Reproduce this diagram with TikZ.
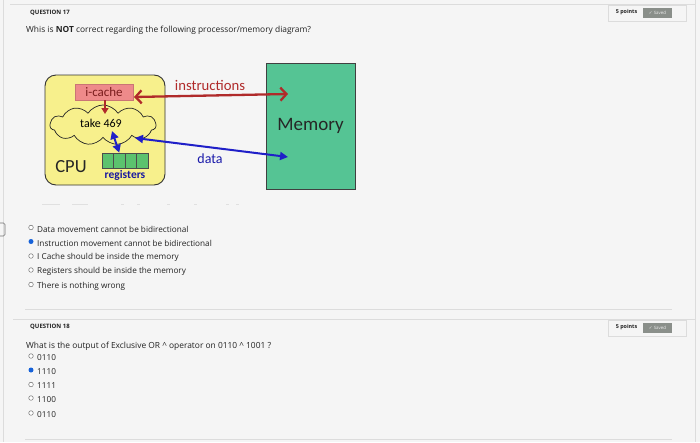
\documentclass[tikz,border=0pt]{standalone}
\usepackage{fontspec}
\setmainfont{Open Sans}
\newfontfamily\diafont{Carlito}
\newfontfamily\symfont{DejaVu Sans}
\usetikzlibrary{shapes.symbols,arrows.meta}
\definecolor{bg}{HTML}{F5F5F5}
\definecolor{rule}{HTML}{DCDCDC}
\definecolor{cpuyellow}{HTML}{F7F08C}
\definecolor{icpink}{HTML}{EE8A8A}
\definecolor{icred}{HTML}{B02A2A}
\definecolor{memgreen}{HTML}{55C494}
\definecolor{reggreen}{HTML}{5CC26E}
\definecolor{darrow}{HTML}{1F1FC8}
\definecolor{txt}{HTML}{222222}
\definecolor{savedgray}{HTML}{8A8F8A}
\tikzset{
  rulel/.style={draw=rule,line width=0.9pt},
  qhead/.style={font=\fontsize{6}{7}\selectfont\bfseries,text=txt,anchor=west,inner sep=0pt},
  qtext/.style={font=\fontsize{8.4}{10}\selectfont,text=txt,anchor=west,inner sep=0pt},
  opttext/.style={font=\fontsize{8.2}{10}\selectfont,text=txt,anchor=west,inner sep=0pt},
  radio/.style={circle,draw=gray!80!black,line width=0.45pt,fill=white,minimum size=4.6pt,inner sep=0pt},
  radiosel/.style={circle,fill=darrow!70!cyan,minimum size=5pt,inner sep=0pt},
  ptsbox/.style={draw=rule,line width=0.8pt,fill=bg,minimum width=78pt,minimum height=16pt,inner sep=0pt},
  ptstext/.style={font=\fontsize{5.4}{6}\selectfont\bfseries,text=txt,inner sep=0pt},
  savedbtn/.style={fill=savedgray,minimum width=29pt,minimum height=10pt,inner sep=0pt,text=white!85!gray,font=\fontsize{4.4}{5}\selectfont},
  cpubox/.style={draw=black!80,line width=0.9pt,fill=cpuyellow,rounded corners=11pt,minimum width=120pt,minimum height=110pt},
  icbox/.style={fill=icpink,draw=icpink!85!black,line width=0.3pt,minimum width=58pt,minimum height=16pt,inner sep=0pt,text=icred!70!black,font=\diafont\fontsize{13}{14}\selectfont},
  cloudn/.style={cloud,cloud puffs=11,cloud puff arc=115,aspect=2.7,draw=black!85,line width=0.7pt,fill=cpuyellow,minimum width=106pt,minimum height=40pt,inner sep=0pt},
  membox/.style={draw=black!75,line width=0.8pt,fill=memgreen,minimum width=89pt,minimum height=126pt,inner sep=0pt,font=\diafont\fontsize{19}{20}\selectfont,text=black!85},
  regbox/.style={draw=black!70,line width=0.6pt,fill=reggreen,minimum width=11.5pt,minimum height=15pt,inner sep=0pt},
  redarrow/.style={draw=icred,line width=2.3pt,{Straight Barb[length=6pt,width=13pt,line width=2.3pt]}-{Straight Barb[length=6pt,width=13pt,line width=2.3pt]}},
  bluearrow/.style={draw=darrow,line width=2pt,{Triangle[length=8pt,width=8pt]}-{Triangle[length=8pt,width=8pt]}},
  faint/.style={draw=black!12,line width=0.8pt}
}
\begin{document}
\begin{tikzpicture}[x=1pt,y=-1pt]
\fill[bg] (0,0) rectangle (700,442);
\useasboundingbox (0,0) rectangle (700,442);
% frame lines
\draw[rulel] (3,0) -- (3,442);
\draw[rulel] (695,0) -- (695,442);
\draw[rulel] (10,4) -- (695,4);
% left tab
\draw[draw=black!55,line width=0.6pt,rounded corners=1.5pt] (-3,223) rectangle (5,236);
% question 17
\node[qhead] (q17) at (30,13) {QUESTION 17};
\node[qtext] (q17t) at (26,30) {Whis is \textbf{NOT} correct regarding the following processor/memory diagram?};
\node[ptsbox] (pb1) at (647,13) {};
\node[ptstext] (pt1) at (626.5,12.5) {5 points};
\node[savedbtn] (sv1) at (657.5,12.5) {{\symfont ✓} Saved};
% diagram
\node[cpubox] (cpu) at (105,130) {};
\node[icbox] (ic) at (104,92) {i-cache};
\node[cloudn] (cl) at (103,125) {};
\node[font=\diafont\fontsize{12}{13}\selectfont,inner sep=0pt] (take) at (101,123) {take 469};
\node[membox] (mem) at (310.5,126) {Memory};
\node[regbox] (r1) at (107.75,160.5) {};
\node[regbox] (r2) at (119.25,160.5) {};
\node[regbox] (r3) at (130.75,160.5) {};
\node[regbox] (r4) at (142.25,160.5) {};
\node[font=\diafont\bfseries\fontsize{11.5}{12}\selectfont,text=darrow!80!black,inner sep=0pt] (reglab) at (125,175.5) {registers};
\node[font=\diafont\fontsize{18.5}{19}\selectfont,text=black!85,inner sep=0pt] (cpulab) at (71,167) {CPU};
\node[font=\diafont\fontsize{14.7}{15}\selectfont,text=icred,inner sep=0pt] (inslab) at (210,85) {instructions};
\node[font=\diafont\fontsize{14}{15}\selectfont,text=darrow!85!black,inner sep=0pt] (datlab) at (210,159) {data};
\coordinate (insL) at (134,97);
\coordinate (insR) at (288,94);
\coordinate (dL) at (135,138);
\coordinate (dR) at (288,157);
\coordinate (rgT) at (112,131);
\coordinate (icB) at (105,114);
\draw[redarrow] (insL) -- (insR);
\draw[bluearrow] (dL) -- (dR);
\draw[bluearrow] (rgT) -- (r2.north);
\draw[draw=icred,line width=2pt,-{Triangle[length=6pt,width=7pt]}] (ic.south -| icB) -- (icB);
% faint row
\foreach \a/\b in {42/60,72/88,121/124,137/140,167/170,194/197,226/229,236/239}
  \draw[faint] (\a,204) -- (\b,204);
% options 17
\node[radio] (o1) at (31,227.5) {};
\node[opttext] (o1t) at (37,229) {Data movement cannot be bidirectional};
\node[radiosel] (o2) at (31,241.5) {};
\node[opttext] (o2t) at (37,243) {Instruction movement cannot be bidirectional};
\node[radio] (o3) at (31,256) {};
\node[opttext] (o3t) at (37,257.5) {I Cache should be inside the memory};
\node[radio] (o4) at (31,270) {};
\node[opttext] (o4t) at (37,271.5) {Registers should be inside the memory};
\node[radio] (o5) at (31,284.5) {};
\node[opttext] (o5t) at (37,286) {There is nothing wrong};
% separators
\draw[rulel] (25,309) -- (672,309);
\draw[rulel] (13,319) -- (695,319);
\node[ptsbox] (pb2) at (647,328) {};
\node[ptstext] (pt2) at (626.5,327.5) {5 points};
\node[savedbtn] (sv2) at (657.5,327.5) {{\symfont ✓} Saved};
% question 18
\node[qhead] (q18) at (30,327) {QUESTION 18};
\node[qtext] (q18t) at (26,346) {What is the output of Exclusive OR \^{} operator on 0110 \^{} 1001 ?};
\node[radio] (p1) at (31,356) {};
\node[opttext] (p1t) at (37,358) {0110};
\node[radiosel] (p2) at (31,370) {};
\node[opttext] (p2t) at (37,372) {1110};
\node[radio] (p3) at (31,384.5) {};
\node[opttext] (p3t) at (37,386) {1111};
\node[radio] (p4) at (31,398) {};
\node[opttext] (p4t) at (37,400) {1100};
\node[radio] (p5) at (31,413) {};
\node[opttext] (p5t) at (37,415) {0110};
\draw[rulel] (25,439) -- (672,439);
\end{tikzpicture}
\end{document}
